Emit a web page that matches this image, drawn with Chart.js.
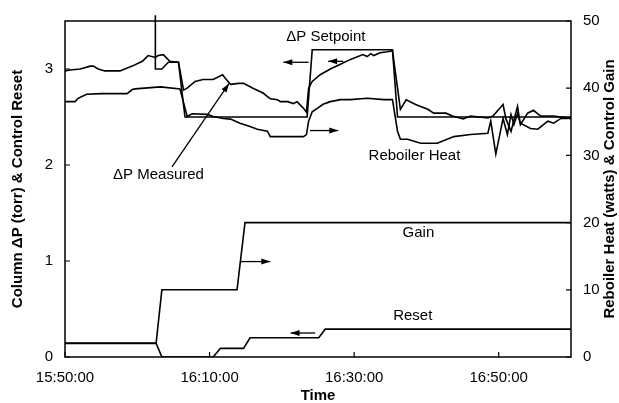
<!DOCTYPE html>
<html><head><meta charset="utf-8">
<script src="https://cdn.jsdelivr.net/npm/chart.js@4.4.1/dist/chart.umd.min.js"></script>
<style>html,body{margin:0;padding:0;background:#fff;}#wrap{width:619px;height:403px;}</style>
</head><body><div id="wrap"><canvas id="c" width="619" height="403"></canvas></div>
<script>
// Time axis: minutes after 15:50:00
const xTickValues = [0, 20, 40, 60];
const xTickLabels = ['15:50:00', '16:10:00', '16:30:00', '16:50:00'];
const leftTicks = [0, 1, 2, 3];
const rightTicks = [0, 10, 20, 30, 40, 50];

// ΔP Measured (torr, left axis)
const measuredT = [0,0.7,2.1,3.5,3.9,4.6,5.5,7.6,9.3,10.7,11.5,12.5,12.9,13.6,14.5,15.7,16.4,16.9,18.0,19.1,20.5,21.8,22.2,22.9,24.0,24.7,26.0,27.4,28.4,29.4,29.8,30.8,31.6,32.1,33.0,33.4,33.7,34.2,35.3,36.7,38.1,39.5,41.2,41.8,42.3,42.7,43.6,44.6,45.3,46.4,47.2,48.5,49.2,50.2,51.0,52.7,53.6,55.1,56.1,58.5,59.2,60.6,61.0,61.7,62.6,63.0,64.0,64.8,65.8,67.6,69.6,70];
const measuredV = [2.98,2.99,3.00,3.03,3.03,3.00,2.98,2.98,3.03,3.08,3.14,3.12,3.14,3.15,3.08,3.07,2.78,2.80,2.87,2.89,2.89,2.94,2.90,2.84,2.85,2.85,2.80,2.75,2.69,2.68,2.66,2.66,2.64,2.66,2.59,2.55,2.80,2.87,2.94,3.00,3.05,3.10,3.15,3.13,3.16,3.14,3.17,3.18,3.19,2.58,2.68,2.63,2.61,2.58,2.54,2.54,2.51,2.48,2.51,2.49,2.51,2.63,2.48,2.35,2.61,2.42,2.54,2.57,2.51,2.51,2.49,2.48];

// ΔP Setpoint (torr, left axis)
const setpointT = [12.5,12.5,13.4,14.3,15.7,16.6,33.5,34.2,45.3,46.0,70];
const setpointV = [3.56,3.00,3.00,3.07,3.07,2.50,2.50,3.20,3.20,2.50,2.50];

// Reboiler Heat (watts, right axis)
const heatT = [0,1.4,1.8,3.0,5.1,8.6,9.3,9.7,13.2,15.9,16.9,17.6,19.7,20.5,21.9,22.9,24.2,25.6,26.6,28.0,28.4,29.8,33.0,33.4,33.7,34.2,34.9,35.7,36.7,38.1,39.5,41.8,44.1,45.3,46.0,46.4,47.4,49.2,51.5,53.8,56.1,58.5,58.9,59.6,60.6,61.2,61.7,62.1,62.6,63.0,64.4,65.4,66.8,67.6,68.6,69.6,70];
const heatV = [38.0,38.0,38.5,39.1,39.2,39.2,39.8,39.9,40.2,39.9,35.8,36.2,36.1,35.8,35.5,35.4,34.8,34.3,33.9,33.6,32.8,32.8,32.8,33.1,35.1,36.5,37.0,37.6,38.0,38.3,38.3,38.5,38.3,38.3,33.6,32.4,32.4,31.8,31.8,32.8,33.1,33.3,35.1,30.2,35.5,33.1,36.1,34.6,36.2,34.8,34.0,33.9,35.1,34.8,35.5,35.5,35.8];

// Control Gain (right axis)
const gainT = [0,12.6,13.4,23.8,24.9,70];
const gainV = [2.0,2.0,10,10,20,20];

// Control Reset (left axis)
const resetT = [0,12.6,13.4,20.5,21.5,24.7,25.6,35.1,36.0,70];
const resetV = [0.145,0.145,0,0,0.09,0.09,0.2,0.2,0.29,0.29];

// Annotation labels [text, time, value, axis]
const labelTexts = ['ΔP Setpoint', 'ΔP Measured', 'Reboiler Heat', 'Gain', 'Reset'];
const labelT = [30.6, 6.65, 42.0, 46.7, 45.4];
const labelV = [3.33, 1.90, 2.10, 1.29, 0.43];

// Arrows (tail time, tail value, head time, head value, axis)
const arrowT0 = [33.7, 38.5, 33.9, 24.2, 34.6, 14.8];
const arrowV0 = [3.07, 3.08, 33.7, 14.2, 0.25, 1.98];
const arrowT1 = [30.2, 36.4, 37.8, 28.4, 31.2, 22.7];
const arrowV1 = [3.07, 3.08, 33.7, 14.2, 0.25, 2.85];
const arrowAxis = ['y', 'y', 'y2', 'y2', 'y', 'y'];

const FONT = "'Liberation Sans', Arial, Helvetica, sans-serif";
Chart.defaults.font.family = FONT;
Chart.defaults.color = '#000';

const pts = (t, v) => t.map((x, i) => ({x: x, y: v[i]}));
const lineDs = (label, t, v, axis, extra) => Object.assign({
  label, data: pts(t, v), yAxisID: axis, borderColor: '#000', borderWidth: 1.6,
  pointRadius: 0, tension: 0, fill: false
}, extra || {});

const overlay = {
  id: 'overlay',
  afterDraw(chart) {
    const {ctx, chartArea: a, scales} = chart;
    const sx = scales.x, sy = scales.y, sy2 = scales.y2;
    ctx.save();
    ctx.strokeStyle = '#000';
    ctx.fillStyle = '#000';
    ctx.lineWidth = 1.5;
    ctx.strokeRect(a.left, a.top, a.right - a.left, a.bottom - a.top);
    // inward tick marks
    ctx.lineWidth = 1.2;
    ctx.beginPath();
    sy.ticks.forEach(t => { const p = sy.getPixelForValue(t.value); ctx.moveTo(a.left, p); ctx.lineTo(a.left + 5, p); });
    sy2.ticks.forEach(t => { const p = sy2.getPixelForValue(t.value); ctx.moveTo(a.right - 5, p); ctx.lineTo(a.right, p); });
    sx.ticks.forEach(t => { const p = sx.getPixelForValue(t.value); ctx.moveTo(p, a.bottom); ctx.lineTo(p, a.bottom - 5); });
    ctx.stroke();
    // arrows
    ctx.lineWidth = 1.3;
    for (let i = 0; i < arrowT0.length; i++) {
      const s = arrowAxis[i] === 'y' ? sy : sy2;
      const x0 = sx.getPixelForValue(arrowT0[i]), y0 = s.getPixelForValue(arrowV0[i]);
      const x1 = sx.getPixelForValue(arrowT1[i]), y1 = s.getPixelForValue(arrowV1[i]);
      const ang = Math.atan2(y1 - y0, x1 - x0);
      ctx.beginPath(); ctx.moveTo(x0, y0); ctx.lineTo(x1, y1); ctx.stroke();
      const L = 9, W = 3;
      ctx.beginPath();
      ctx.moveTo(x1, y1);
      ctx.lineTo(x1 - L * Math.cos(ang) + W * Math.sin(ang), y1 - L * Math.sin(ang) - W * Math.cos(ang));
      ctx.lineTo(x1 - L * Math.cos(ang) - W * Math.sin(ang), y1 - L * Math.sin(ang) + W * Math.cos(ang));
      ctx.closePath(); ctx.fill();
    }
    // text labels
    ctx.font = '15px ' + FONT;
    ctx.textAlign = 'left';
    ctx.textBaseline = 'middle';
    for (let i = 0; i < labelTexts.length; i++) {
      ctx.fillText(labelTexts[i], sx.getPixelForValue(labelT[i]), sy.getPixelForValue(labelV[i]));
    }
    // right axis title (reads bottom to top)
    ctx.font = 'bold 15px ' + FONT;
    ctx.textAlign = 'center';
    ctx.translate(610, (a.top + a.bottom) / 2);
    ctx.rotate(-Math.PI / 2);
    ctx.fillText('Reboiler Heat (watts) & Control Gain', 0, 0);
    ctx.restore();
  }
};

new Chart(document.getElementById('c'), {
  type: 'line',
  data: {
    datasets: [
      lineDs('ΔP Measured', measuredT, measuredV, 'y'),
      lineDs('ΔP Setpoint', setpointT, setpointV, 'y', {clip: false}),
      lineDs('Reboiler Heat', heatT, heatV, 'y2'),
      lineDs('Gain', gainT, gainV, 'y2'),
      lineDs('Reset', resetT, resetV, 'y')
    ]
  },
  options: {
    responsive: false,
    animation: false,
    devicePixelRatio: 1,
    layout: {padding: {top: 19, left: 0, right: 0, bottom: 0}},
    plugins: {legend: {display: false}, tooltip: {enabled: false}},
    scales: {
      x: {
        type: 'linear', position: 'bottom', min: 0, max: 70,
        afterBuildTicks: s => { s.ticks = xTickValues.map(v => ({value: v})); },
        afterFit: s => { s.height = 46; },
        grid: {display: false, drawTicks: false}, border: {display: false},
        ticks: {padding: 12, font: {size: 15}, color: '#000', maxRotation: 0,
          callback: v => xTickLabels[xTickValues.indexOf(v)] || ''},
        title: {display: true, text: 'Time', font: {size: 15, weight: 'bold', lineHeight: 1}, padding: {top: 0, bottom: 0}, color: '#000'}
      },
      y: {
        type: 'linear', position: 'left', min: 0, max: 3.5,
        afterBuildTicks: s => { s.ticks = leftTicks.map(v => ({value: v})); },
        afterFit: s => { s.width = 65; },
        grid: {display: false, drawTicks: false}, border: {display: false},
        ticks: {padding: 12, font: {size: 15}, color: '#000'},
        title: {display: true, text: 'Column ΔP (torr) & Control Reset', font: {size: 15, weight: 'bold', lineHeight: 1}, padding: {top: 10, bottom: 0}, color: '#000'}
      },
      y2: {
        type: 'linear', position: 'right', min: 0, max: 50,
        afterBuildTicks: s => { s.ticks = rightTicks.map(v => ({value: v})); },
        afterFit: s => { s.width = 48; },
        grid: {display: false, drawTicks: false}, border: {display: false},
        ticks: {padding: 12, font: {size: 15}, color: '#000'}
      }
    }
  },
  plugins: [overlay]
});
</script>
</body></html>
